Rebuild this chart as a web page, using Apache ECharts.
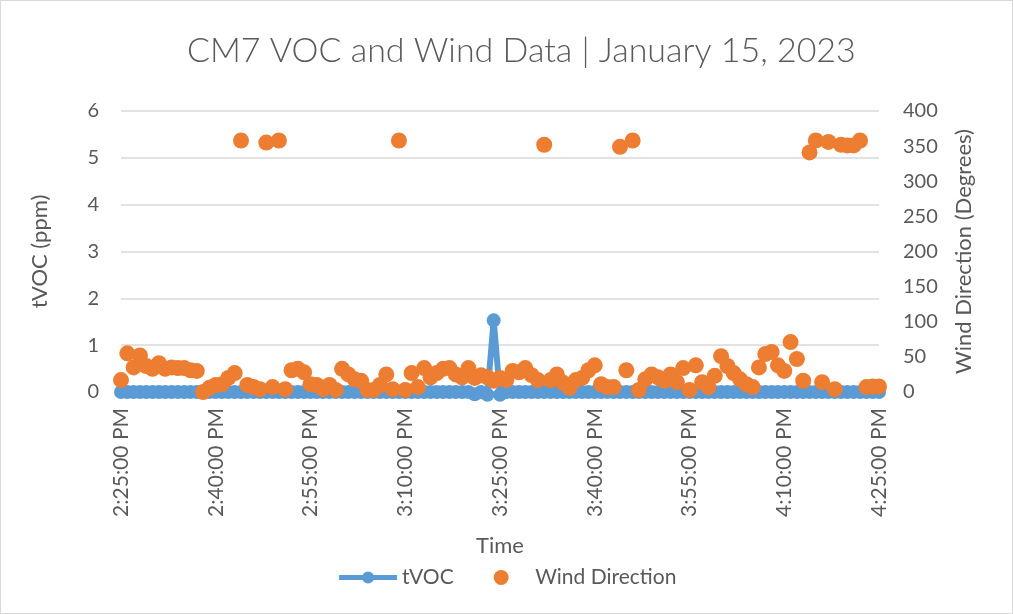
<!DOCTYPE html>
<html><head><meta charset="utf-8">
<script src="https://cdn.jsdelivr.net/npm/echarts@6/dist/echarts.min.js"></script>
<style>html,body{margin:0;padding:0;background:#fff}#c{width:1011px;height:612px;border:1px solid #d9d9d9}</style>
</head><body><div id="c"></div>
<script>
// Time categories: one per minute, 2:25 PM to 4:25 PM
const startMinute = 14 * 60 + 25;
const categories = [];
for (let i = 0; i <= 120; i++) {
  const m = startMinute + i;
  let h = Math.floor(m / 60) % 12; if (h === 0) h = 12;
  const mm = String(m % 60).padStart(2, '0');
  categories.push(h + ':' + mm + ':00 PM');
}
const tvoc = [
  0,0,0,0,0,0,0,0,0,0, 0,0,0,0,0,0,0,0,0,0,
  0,0,0,0,0,0,0,0,0,0, 0,0,0,0,0,0,0,0,0,0,
  0,0,0,0,0,0,0,0,0,0, 0,0,0,0,0,0,-0.05,0,-0.06,1.53,
  -0.06,0,0,0,0,0,0,0,0,0, 0,0,0,0,0,0,0,0,0,0,
  0,0,0,0,0,0,0,0,0,0, 0,0,0,0,0,0,0,0,0,0,
  0,0,0,0,0,0,0,0,0,0, 0,0,0,0,0,0,0,0,0,0, 0
];
const windDir = [
  17,55,35,52,37,33,41,33,35,34, 34,31,30,0,6,10,11,20,27,358,
  10,7,4,355,7,358,4,31,33,28, 11,10,4,10,3,33,25,18,16,3,
  3,10,25,4,358,3,27,7,34,21, 27,33,34,25,21,34,20,24,21,16,
  20,17,30,28,34,24,17,352,17,25, 13,6,17,20,31,38,11,7,7,349,
  31,358,3,18,25,21,16,25,14,34, 3,38,14,7,23,51,37,27,18,11,
  7,35,54,57,38,30,71,47,16,341, 358,14,356,4,352,351,351,358,7,8, 8
];
const leftTicks = { min: 0, max: 6, interval: 1 };
const rightTicks = { min: 0, max: 400, interval: 50 };

const txt = '#595959';
const font = 'Lato';
const chart = echarts.init(document.getElementById('c'));
chart.setOption({
  animation: false,
  textStyle: { fontFamily: font },
  title: {
    text: 'CM7 VOC and Wind Data | January 15, 2023',
    left: 181, top: 28,
    textStyle: { color: txt, fontSize: 34, fontWeight: 300, fontFamily: font }
  },
  grid: { left: 120, right: 133, top: 110, bottom: 221 },
  legend: {
    bottom: 20, left: 'center', itemGap: 40, itemWidth: 58, itemHeight: 15,
    textStyle: { color: txt, fontSize: 21, fontFamily: font },
    lineStyle: { width: 5 },
    data: ['tVOC', 'Wind Direction']
  },
  xAxis: {
    type: 'category', data: categories, boundaryGap: false,
    name: 'Time', nameLocation: 'middle', nameGap: 143,
    nameTextStyle: { color: txt, fontSize: 22, fontFamily: font },
    axisLine: { lineStyle: { color: '#d9d9d9' } },
    axisTick: { show: false },
    axisLabel: { interval: 14, rotate: 90, margin: 16, color: txt, fontSize: 21, fontFamily: font },
    splitLine: { show: false }
  },
  yAxis: [{
    type: 'value', min: leftTicks.min, max: leftTicks.max, interval: leftTicks.interval,
    name: 'tVOC (ppm)', nameLocation: 'middle', nameGap: 70, nameRotate: 90,
    nameTextStyle: { color: txt, fontSize: 22, fontFamily: font },
    axisLine: { show: false }, axisTick: { show: false },
    axisLabel: { margin: 22, color: txt, fontSize: 20, fontFamily: font },
    splitLine: { lineStyle: { color: '#d9d9d9', width: 1.5 } }
  }, {
    type: 'value', min: rightTicks.min, max: rightTicks.max, interval: rightTicks.interval,
    name: 'Wind Direction (Degrees)', nameLocation: 'middle', nameGap: 74, nameRotate: 90,
    nameTextStyle: { color: txt, fontSize: 22, fontFamily: font },
    axisLine: { show: false }, axisTick: { show: false },
    axisLabel: { margin: 24, color: txt, fontSize: 20, fontFamily: font },
    splitLine: { show: false }
  }],
  series: [{
    name: 'tVOC', type: 'line', data: tvoc, yAxisIndex: 0, clip: false,
    symbol: 'circle', symbolSize: 14, showAllSymbol: true,
    lineStyle: { color: '#5B9BD5', width: 6 },
    itemStyle: { color: '#5B9BD5' }, z: 2
  }, {
    name: 'Wind Direction', type: 'scatter', data: windDir, yAxisIndex: 1,
    symbol: 'circle', symbolSize: 16,
    itemStyle: { color: '#ED7D31', opacity: 1 }, z: 3
  }]
});
</script></body></html>
